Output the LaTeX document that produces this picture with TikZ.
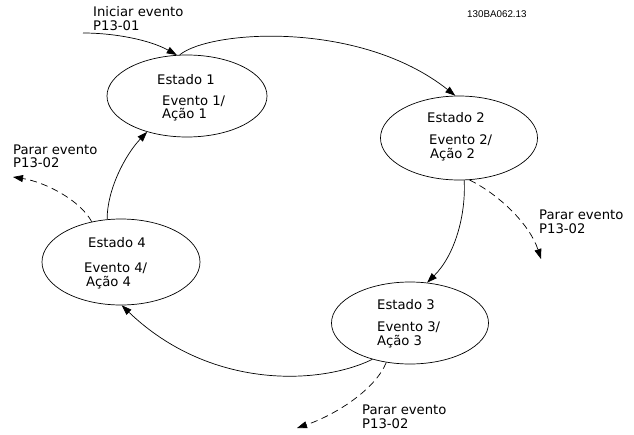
\documentclass[tikz,border=0pt]{standalone}
\usepackage{fontspec}
\setmainfont{DejaVu Sans}
\newfontfamily\codefont{Liberation Sans}
\usetikzlibrary{arrows.meta,shapes.geometric}

\tikzset{
  state/.style={ellipse, draw, line width=0.7pt, inner sep=0pt},
  lbl/.style={anchor=base west, inner sep=0pt, font=\fontsize{13.2}{15}\selectfont},
  flow/.style={line width=0.7pt, -{Triangle[length=10pt,width=7pt]}},
  stopflow/.style={flow, dash pattern=on 7pt off 4.5pt},
}

\begin{document}
\begin{tikzpicture}[x=1pt, y=-1pt]
  \useasboundingbox (0,0) rectangle (634,434);

  % states
  \node[state, minimum width=160pt, minimum height=82pt] (e1) at (187,96) {};
  \node[state, minimum width=157pt, minimum height=84pt] (e2) at (459,138) {};
  \node[state, minimum width=157pt, minimum height=82pt] (e3) at (410,323) {};
  \node[state, minimum width=158pt, minimum height=86pt] (e4) at (121,262) {};

  % state texts
  \node[lbl] (t1a) at (157,84)    {Estado 1};
  \node[lbl] (t1b) at (162,105)   {Evento 1/};
  \node[lbl] (t1c) at (162,118.5) {Ação 1};

  \node[lbl] (t2a) at (427,122) {Estado 2};
  \node[lbl] (t2b) at (429,144) {Evento 2/};
  \node[lbl] (t2c) at (430,158) {Ação 2};

  \node[lbl] (t3a) at (377,309) {Estado 3};
  \node[lbl] (t3b) at (377,331) {Evento 3/};
  \node[lbl] (t3c) at (377,345) {Ação 3};

  \node[lbl] (t4a) at (88,247) {Estado 4};
  \node[lbl] (t4b) at (84,272) {Evento 4/};
  \node[lbl] (t4c) at (86,286) {Ação 4};

  % event labels
  \node[lbl] (start1) at (93,16) {Iniciar evento};
  \node[lbl] (start2) at (93,30) {P13-01};

  \node[lbl] (stopA1) at (13,154) {Parar evento};
  \node[lbl] (stopA2) at (13,167) {P13-02};

  \node[lbl] (stopB1) at (539,219) {Parar evento};
  \node[lbl] (stopB2) at (539,233) {P13-02};

  \node[lbl] (stopC1) at (362,414) {Parar evento};
  \node[lbl] (stopC2) at (362,428) {P13-02};

  \node[anchor=base west, inner sep=0pt, font=\codefont\fontsize{9.8}{11}\selectfont] (code) at (467,17) {130BA062.13};

  % free ends
  \coordinate (in)    at (83,33);
  \coordinate (outA)  at (13,177);
  \coordinate (outB)  at (541,259);
  \coordinate (outC)  at (297,428);

  % transitions
  \draw[flow] (in) .. controls (115,33) and (150,40) .. (e1.104);
  \draw[flow] (e1.100) .. controls (210,30) and (360,20) .. (e2.95);
  \draw[flow] (e2.277) .. controls (466,215) and (455,255) .. (e3.67);
  \draw[flow] (e3.224) .. controls (320,385) and (210,390) .. (e4.271);
  \draw[flow] (e4.108) .. controls (107,190) and (125,155) .. (e1.222);

  % stop events
  \draw[stopflow] (e4.126) .. controls (80,200) and (45,182) .. (outA);
  \draw[stopflow] (e2.284) .. controls (500,195) and (530,225) .. (outB);
  \draw[stopflow] (e3.239) .. controls (375,390) and (335,415) .. (outC);
\end{tikzpicture}
\end{document}
